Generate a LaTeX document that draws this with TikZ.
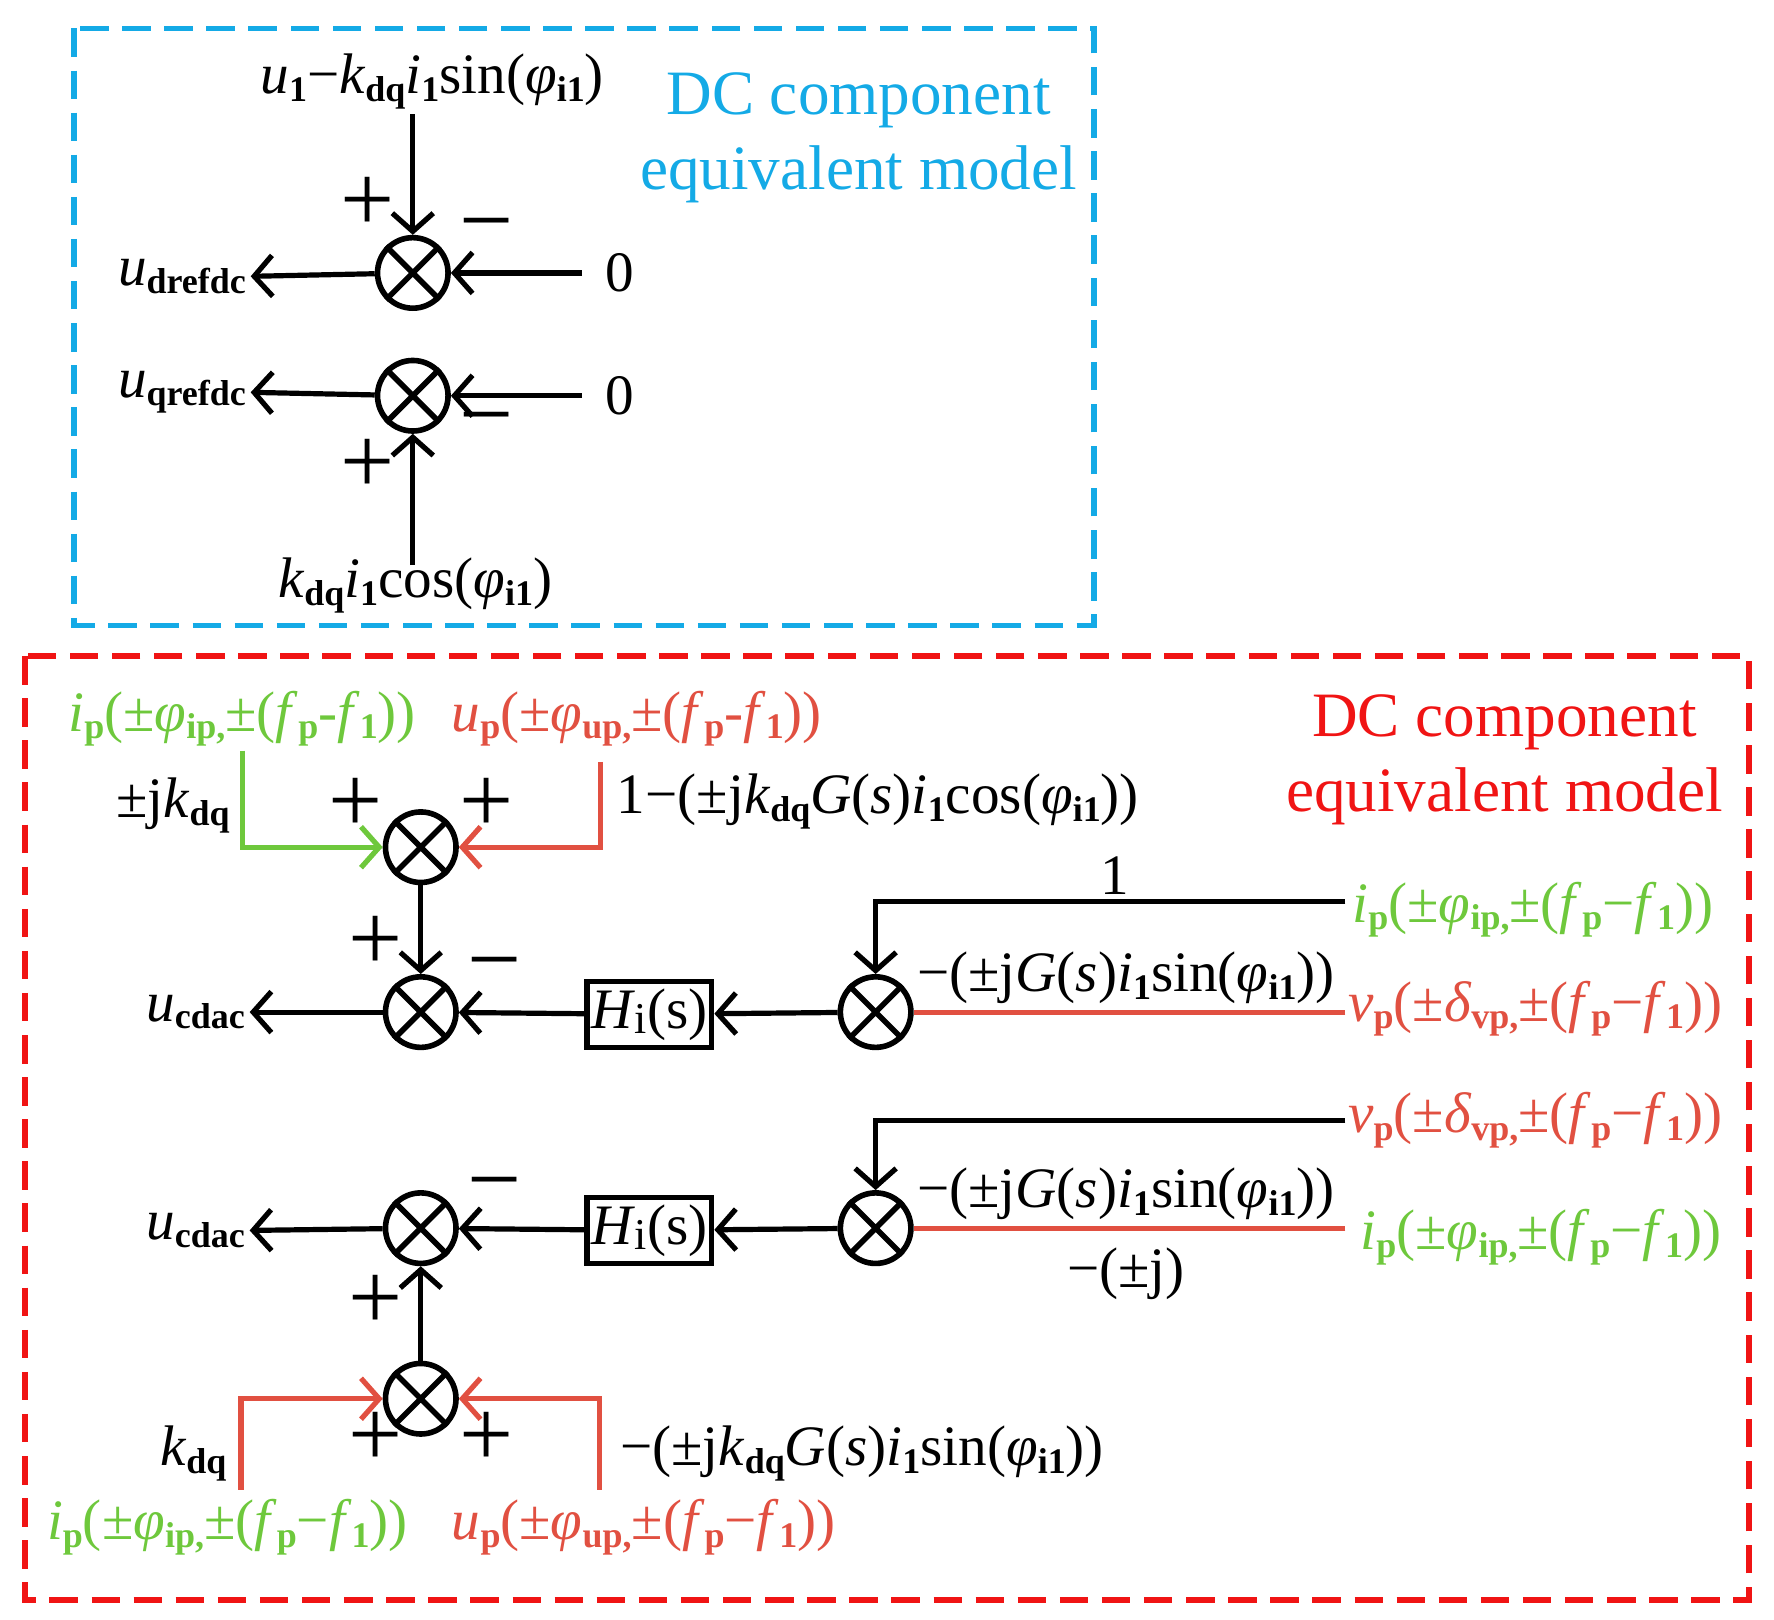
\documentclass[tikz,border=0pt]{standalone}
\usepackage{fontspec}
\setmainfont{Liberation Serif}
\usetikzlibrary{arrows.meta}
\newcommand\sbx[1]{\raisebox{-0.3ex}{\fontsize{9}{9}\selectfont\textbf{#1}}}
\newcommand\itx[1]{\textit{#1}}
\definecolor{cblue}{RGB}{20,170,230}
\definecolor{cred}{RGB}{240,20,20}
\definecolor{lred}{RGB}{225,80,65}
\definecolor{lgreen}{RGB}{110,200,60}
\tikzset{
 sum/.style={circle,draw,line width=1.4pt,minimum size=0.62cm,inner sep=0pt},
 ln/.style={line width=1.3pt},
 ar/.style={ln,-{Straight Barb[length=1.6mm,width=3.6mm,line width=1.3pt]}},
 lab/.style={font=\fontsize{14.3}{14.3}\selectfont,inner sep=1pt},
 big/.style={font=\fontsize{15.8}{15.8}\selectfont,inner sep=1pt},
 sgn/.style={font=\fontsize{24}{24}\selectfont,inner sep=0pt},
 blk/.style={draw,line width=1.4pt,minimum width=1.04cm,minimum height=0.58cm,inner sep=1pt,font=\fontsize{14.3}{14.3}\selectfont},
 dsh/.style={dash pattern=on 0.25cm off 0.12cm},
}
\newcommand\cross[1]{\draw[line width=1.4pt] (#1.45)--(#1.225) (#1.135)--(#1.315);}
\begin{document}
\begin{tikzpicture}[x=0.01cm,y=-0.01cm]
\useasboundingbox (0,0) rectangle (1560,1424);
\draw[cblue,line width=1.3pt,dsh] (65,25) rectangle (962,550);
\draw[cred,line width=1.5pt,dsh] (22,577) rectangle (1538,1407);
% top
\node[sum] (s1) at (363,240) {}; \cross{s1}
\node[sum] (s2) at (363,348) {}; \cross{s2}
\node[lab] (t1) at (380,72) {\itx{u}\sbx{1}−\itx{k}\sbx{dq}\itx{i}\sbx{1}sin(\itx{φ}\sbx{i1})};
\node[lab] (t2) at (365,515) {\itx{k}\sbx{dq}\itx{i}\sbx{1}cos(\itx{φ}\sbx{i1})};
\node[lab] (z1) at (545,240) {0};
\node[lab] (z2) at (545,348) {0};
\node[lab] (o1) at (160,243) {\itx{u}\sbx{drefdc}};
\node[lab] (o2) at (160,345) {\itx{u}\sbx{qrefdc}};
\draw[ar] (t1.south -| s1) -- (s1);
\draw[ar] (512,240) -- (s1);
\draw[ar] (s1) -- (o1.east);
\draw[ar] (512,348) -- (s2);
\draw[ar] (s2) -- (o2.east);
\draw[ar] (363,497) -- (s2);
\node[sgn] at (323,180) {+}; \node[sgn] at (428,207) {−};
\node[sgn] at (428,378) {−}; \node[sgn] at (323,410) {+};
\node[big,cblue] at (755,88) {DC component};
\node[big,cblue] at (755,153) {equivalent model};
% red part
\node[big,cred] at (1323,635) {DC component};
\node[big,cred] at (1323,700) {equivalent model};
\node[sum] (A) at (370,745) {}; \cross{A}
\node[sum] (B) at (370,890) {}; \cross{B}
\node[sum] (C) at (770,890) {}; \cross{C}
\node[blk] (H1) at (571,892) {\itx{H}\raisebox{-0.2ex}{\fontsize{11}{11}\selectfont i}(s)};
\node[sum] (D) at (370,1080) {}; \cross{D}
\node[sum] (E) at (770,1080) {}; \cross{E}
\node[blk] (H2) at (571,1082) {\itx{H}\raisebox{-0.2ex}{\fontsize{11}{11}\selectfont i}(s)};
\node[sum] (F) at (370,1230) {}; \cross{F}
% A
\node[lab,lgreen] at (213,632) {\itx{i}\sbx{p}(±\itx{φ}\sbx{ip,}±(\itx{f}\sbx{p}-\itx{f}\sbx{1}))};
\node[lab,lred] at (560,632) {\itx{u}\sbx{p}(±\itx{φ}\sbx{up,}±(\itx{f}\sbx{p}-\itx{f}\sbx{1}))};
\node[lab] at (152,708) {±j\itx{k}\sbx{dq}};
\node[lab] at (772,705) {1−(±j\itx{k}\sbx{dq}\itx{G}(\itx{s})\itx{i}\sbx{1}cos(\itx{φ}\sbx{i1}))};
\coordinate (ga) at (213,660); \coordinate (ra) at (528,670);
\draw[ar,lgreen] (ga) |- (A);
\draw[ar,lred] (ra) |- (A);
\node[sgn] at (313,708) {+}; \node[sgn] at (428,708) {+};
% B row
\draw[ar] (A) -- (B);
\node[sgn] at (330,830) {+}; \node[sgn] at (435,857) {−};
\node[lab] (ob) at (172,890) {\itx{u}\sbx{cdac}};
\draw[ar] (B) -- (ob.east);
\draw[ar] (H1) -- (B);
\draw[ar] (C) -- (H1);
\coordinate (c1) at (1183,793);
\draw[ar] (c1) -| (C);
\node[lab] at (980,770) {1};
\coordinate (c2) at (1183,890);
\draw[ln,lred] (c2) -- (C);
\node[lab] at (990,860) {−(±j\itx{G}(\itx{s})\itx{i}\sbx{1}sin(\itx{φ}\sbx{i1}))};
\node[lab,lgreen] at (1348,800) {\itx{i}\sbx{p}(±\itx{φ}\sbx{ip,}±(\itx{f}\sbx{p}−\itx{f}\sbx{1}))};
\node[lab,lred] at (1350,887) {\itx{v}\sbx{p}(±\itx{δ}\sbx{vp,}±(\itx{f}\sbx{p}−\itx{f}\sbx{1}))};
% D row
\node[lab] (od) at (172,1082) {\itx{u}\sbx{cdac}};
\draw[ar] (D) -- (od.east);
\draw[ar] (H2) -- (D);
\draw[ar] (E) -- (H2);
\coordinate (e1) at (1183,985);
\draw[ar] (e1) -| (E);
\coordinate (e2) at (1183,1080);
\draw[ln,lred] (e2) -- (E);
\node[lab,lred] at (1350,985) {\itx{v}\sbx{p}(±\itx{δ}\sbx{vp,}±(\itx{f}\sbx{p}−\itx{f}\sbx{1}))};
\node[lab] at (990,1050) {−(±j\itx{G}(\itx{s})\itx{i}\sbx{1}sin(\itx{φ}\sbx{i1}))};
\node[lab,lgreen] at (1355,1088) {\itx{i}\sbx{p}(±\itx{φ}\sbx{ip,}±(\itx{f}\sbx{p}−\itx{f}\sbx{1}))};
\node[lab] at (990,1120) {−(±j)};
\node[sgn] at (435,1050) {−};
% F
\draw[ar] (F) -- (D);
\node[sgn] at (330,1145) {+};
\coordinate (gf) at (212,1310); \coordinate (rf) at (527,1310);
\draw[ar,lred] (gf) |- (F);
\draw[ar,lred] (rf) |- (F);
\node[lab] at (170,1278) {\itx{k}\sbx{dq}};
\node[sgn] at (330,1266) {+}; \node[sgn] at (428,1266) {+};
\node[lab] at (758,1278) {−(±j\itx{k}\sbx{dq}\itx{G}(\itx{s})\itx{i}\sbx{1}sin(\itx{φ}\sbx{i1}))};
\node[lab,lgreen] at (200,1343) {\itx{i}\sbx{p}(±\itx{φ}\sbx{ip,}±(\itx{f}\sbx{p}−\itx{f}\sbx{1}))};
\node[lab,lred] at (566,1343) {\itx{u}\sbx{p}(±\itx{φ}\sbx{up,}±(\itx{f}\sbx{p}−\itx{f}\sbx{1}))};
\end{tikzpicture}
\end{document}
